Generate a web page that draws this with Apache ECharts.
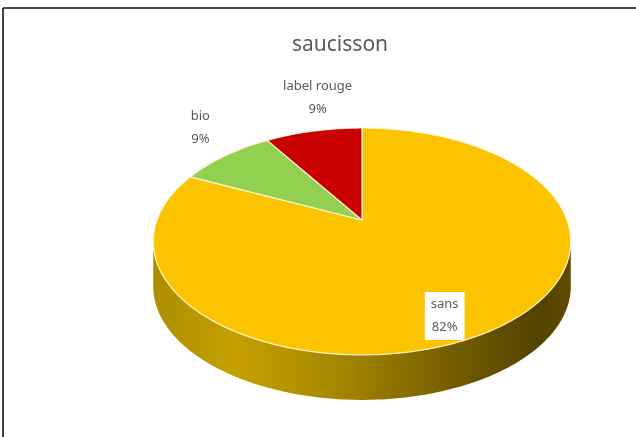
<!DOCTYPE html>
<html><head><meta charset="utf-8">
<script src="https://cdn.jsdelivr.net/npm/echarts@6/dist/echarts.min.js"></script>
<style>html,body{margin:0;padding:0;background:#fff}#c{width:636px;height:437px}</style>
</head><body><div id="c"></div>
<script>
// ---- data ----
const titleText = 'saucisson';
const categories = ['sans', 'bio', 'label rouge'];
const values = [82, 9, 9];

// ---- style / layout ----
const sliceColors = ['#fcc300', '#92d050', '#c80000'];
const labelOffsets = [[-48, -14], [-25, -28], [4, -33]];   // offset of label from the rim point at mid-angle
const labelBoxed = [true, false, false];
const CX = 362, CY = 220, A = 205, B = 109.4, W = 0.189, H = 45;
const wallStops = [[0, '#ad8e00'], [0.2, '#c4a000'], [0.45, '#a58500'], [0.72, '#735c00'], [0.92, '#534200'], [1, '#5f4c00']];

function proj(theta, r, dy) {
  const t = theta * Math.PI / 180;
  const X = r * Math.sin(t), Z = r * Math.cos(t);
  const d = 1 + W * Z;
  return [CX + A * X / d, CY - B * Z / d + (dy || 0)];
}
function arcPts(a0, a1, dy) {
  const pts = [];
  const n = Math.max(2, Math.ceil(Math.abs(a1 - a0)));
  for (let i = 0; i <= n; i++) pts.push(proj(a0 + (a1 - a0) * i / n, 1, dy));
  return pts;
}
const total = values.reduce((a, b) => a + b, 0);
const starts = [];
let acc = 0;
values.forEach(v => { starts.push(acc / total * 360); acc += v; });
const wallFrom = Math.acos(-W) * 180 / Math.PI;
const wallTo = 360 - wallFrom;
const leftX = proj(wallTo, 1)[0], rightX = proj(wallFrom, 1)[0];

function renderItem(params, api) {
  const i = params.dataIndex;
  const v = api.value(1);
  const a0 = starts[i], a1 = a0 + v / total * 360;
  const children = [];
  const w0 = Math.max(a0, wallFrom), w1 = Math.min(a1, wallTo);
  if (w1 > w0) {
    const pts = arcPts(w0, w1, 0).concat(arcPts(w1, w0, H));
    children.push({
      type: 'polygon', z2: 1,
      shape: { points: pts },
      style: { fill: { type: 'linear', x: leftX, y: 0, x2: rightX, y2: 0, global: true,
        colorStops: wallStops.map(s => ({ offset: s[0], color: s[1] })) } }
    });
  }
  const top = [proj(0, 0)].concat(arcPts(a0, a1, 0));
  children.push({
    type: 'polygon', z2: 10,
    shape: { points: top },
    style: { fill: sliceColors[i], stroke: 'rgba(255,250,220,0.9)', lineWidth: 1.2, lineJoin: 'round' }
  });
  const mid = (a0 + a1) / 2;
  const rim = proj(mid, 1);
  const pct = Math.round(v / total * 100) + '%';
  const boxed = labelBoxed[i];
  children.push({
    type: 'text', z2: 20,
    style: {
      text: categories[params.dataIndex] + '\n' + pct,
      x: rim[0] + labelOffsets[i][0], y: rim[1] + labelOffsets[i][1],
      align: 'center', verticalAlign: 'middle',
      fill: '#5a5a5a', fontSize: 13, fontFamily: '"Liberation Sans Narrow", "Noto Sans", sans-serif',
      lineHeight: 23,
      backgroundColor: boxed ? '#ffffff' : null,
      padding: boxed ? [1, 6, 1, 6] : 0
    }
  });
  return { type: 'group', children };
}

const chart = echarts.init(document.getElementById('c'), null, { renderer: 'canvas' });
chart.setOption({
  backgroundColor: '#ffffff',
  animation: false,
  title: {
    text: titleText, left: 335, top: 30, textAlign: 'center',
    textStyle: { fontSize: 21, fontWeight: 'normal', color: '#595959', fontFamily: '"Noto Sans", sans-serif' }
  },
  graphic: [
    { type: 'line', shape: { x1: 3, y1: 8, x2: 636, y2: 8 }, style: { stroke: '#111', lineWidth: 1.6 } },
    { type: 'line', shape: { x1: 3, y1: 8, x2: 3, y2: 437 }, style: { stroke: '#111', lineWidth: 1.6 } }
  ],
  series: [{
    type: 'custom',
    coordinateSystem: 'none',
    renderItem: renderItem,
    data: values.map((v, i) => ({ name: categories[i], value: [i, v] }))
  }]
});
</script>
</body></html>
